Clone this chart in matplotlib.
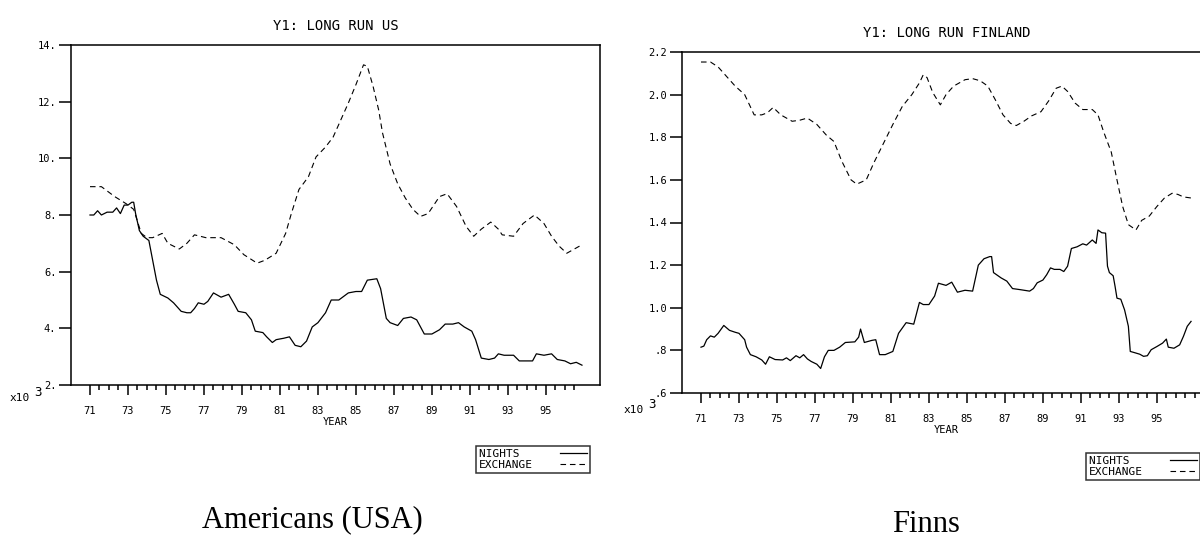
import numpy as np
import matplotlib.pyplot as plt
from matplotlib.ticker import FixedLocator

# ---- data (values in thousands) ----
us_nights_year = [71.0, 71.2, 71.4, 71.6, 71.9, 72.2, 72.4, 72.6, 72.8, 73.0, 73.2, 73.3,
                  73.4, 73.6, 73.8, 74.1, 74.3, 74.4, 74.5, 74.7, 75.1, 75.4, 75.8, 76.1,
                  76.3, 76.5, 76.7, 77.0, 77.2, 77.5, 77.9, 78.3, 78.6, 78.8, 79.2, 79.5,
                  79.7, 80.1, 80.3, 80.6, 80.8, 81.2, 81.5, 81.8, 82.1, 82.4, 82.7, 83.0,
                  83.4, 83.7, 84.1, 84.3, 84.6, 85.0, 85.3, 85.6, 86.1, 86.3, 86.6, 86.8,
                  87.2, 87.5, 87.9, 88.2, 88.6, 89.0, 89.4, 89.7, 90.1, 90.4, 90.7, 91.1,
                  91.3, 91.6, 92.0, 92.3, 92.5, 92.8, 93.3, 93.6, 93.9, 94.3, 94.5, 94.9,
                  95.3, 95.6, 96.0, 96.3, 96.6, 96.9]
us_nights = [8.0, 8.0, 8.15, 8.0, 8.1, 8.1, 8.25, 8.05, 8.35, 8.35, 8.45, 8.45,
             8.05, 7.45, 7.25, 7.1, 6.4, 6.05, 5.7, 5.2, 5.07, 4.9, 4.6, 4.55,
             4.55, 4.7, 4.9, 4.85, 4.95, 5.25, 5.1, 5.2, 4.85, 4.6, 4.55, 4.3,
             3.9, 3.85, 3.7, 3.5, 3.6, 3.65, 3.7, 3.4, 3.35, 3.55, 4.05, 4.2,
             4.55, 5.0, 5.0, 5.1, 5.25, 5.3, 5.3, 5.7, 5.75, 5.4, 4.35, 4.2,
             4.1, 4.35, 4.4, 4.3, 3.8, 3.8, 3.95, 4.15, 4.15, 4.2, 4.05, 3.9,
             3.6, 2.95, 2.9, 2.95, 3.1, 3.05, 3.05, 2.85, 2.85, 2.85, 3.1, 3.05,
             3.1, 2.9, 2.85, 2.75, 2.8, 2.7]

us_exch_year = [71.0, 71.6, 72.3, 72.9, 73.3, 73.7, 74.0, 74.3, 74.8, 75.1, 75.7, 76.1,
                76.5, 77.1, 77.9, 78.6, 79.1, 79.8, 80.2, 80.8, 81.3, 81.6, 82.0, 82.5,
                82.9, 83.4, 83.8, 84.2, 84.6, 85.0, 85.4, 85.6, 85.9, 86.2, 86.4, 86.8,
                87.2, 87.6, 88.0, 88.4, 88.8, 89.4, 89.8, 90.3, 90.8, 91.2, 91.6, 92.1,
                92.5, 92.7, 93.3, 93.8, 94.4, 94.9, 95.3, 95.7, 96.1, 96.5, 96.9]
us_exch = [9.0, 9.0, 8.65, 8.4, 8.2, 7.35, 7.2, 7.2, 7.35, 7.0, 6.8, 7.0,
           7.3, 7.2, 7.2, 6.95, 6.6, 6.3, 6.4, 6.65, 7.35, 8.05, 8.9, 9.35,
           10.05, 10.4, 10.75, 11.35, 11.95, 12.6, 13.3, 13.25, 12.55, 11.7, 10.9, 9.8,
           9.1, 8.6, 8.2, 7.95, 8.05, 8.65, 8.75, 8.3, 7.6, 7.25, 7.5, 7.75,
           7.5, 7.3, 7.25, 7.7, 8.0, 7.7, 7.25, 6.9, 6.65, 6.8, 6.95]

fi_nights_year = [71.0, 71.15, 71.3, 71.5, 71.7, 71.9, 72.2, 72.5, 72.8, 73.0, 73.3, 73.4,
                  73.6, 73.9, 74.2, 74.4, 74.6, 74.9, 75.3, 75.5, 75.7, 76.0, 76.2, 76.4,
                  76.6, 76.8, 77.1, 77.3, 77.5, 77.7, 78.0, 78.3, 78.6, 79.1, 79.3, 79.4,
                  79.6, 80.0, 80.2, 80.4, 80.7, 81.1, 81.4, 81.8, 82.2, 82.5, 82.7, 83.0,
                  83.3, 83.5, 83.9, 84.2, 84.5, 84.9, 85.3, 85.6, 85.9, 86.2, 86.3, 86.4,
                  86.8, 87.1, 87.4, 87.8, 88.3, 88.5, 88.7, 89.0, 89.2, 89.4, 89.6, 89.9,
                  90.1, 90.3, 90.5, 90.8, 91.1, 91.3, 91.6, 91.8, 91.9, 92.1, 92.3, 92.4,
                  92.5, 92.7, 92.8, 92.9, 93.1, 93.3, 93.5, 93.6, 93.8, 94.1, 94.3, 94.5,
                  94.7, 95.0, 95.3, 95.5, 95.6, 95.9, 96.2, 96.4, 96.6, 96.8]
fi_nights = [0.815, 0.82, 0.85, 0.868, 0.862, 0.88, 0.917, 0.894, 0.885, 0.88, 0.85, 0.815,
             0.78, 0.77, 0.755, 0.735, 0.77, 0.757, 0.755, 0.765, 0.752, 0.775, 0.765, 0.78,
             0.76, 0.748, 0.735, 0.715, 0.77, 0.8, 0.8, 0.815, 0.837, 0.84, 0.862, 0.9,
             0.837, 0.847, 0.85, 0.78, 0.78, 0.795, 0.88, 0.93, 0.923, 1.025, 1.015, 1.015,
             1.055, 1.115, 1.105, 1.12, 1.073, 1.082, 1.078, 1.2, 1.23, 1.24, 1.24, 1.165,
             1.14, 1.125, 1.09, 1.085, 1.078, 1.09, 1.117, 1.13, 1.155, 1.187, 1.18, 1.18,
             1.17, 1.195, 1.278, 1.286, 1.3, 1.294, 1.318, 1.302, 1.365, 1.352, 1.35, 1.195,
             1.165, 1.15, 1.1, 1.045, 1.04, 0.99, 0.913, 0.795, 0.79, 0.782, 0.772, 0.775,
             0.803, 0.818, 0.834, 0.853, 0.815, 0.81, 0.826, 0.866, 0.913, 0.936]

fi_exch_year = [71.0, 71.5, 71.9, 72.5, 72.8, 73.3, 73.8, 74.2, 74.5, 74.8, 75.2, 75.8,
                76.2, 76.6, 77.1, 77.6, 78.0, 78.4, 78.9, 79.2, 79.7, 80.1, 80.6, 81.1,
                81.6, 82.1, 82.5, 82.7, 82.9, 83.2, 83.6, 83.9, 84.3, 84.9, 85.3, 85.7,
                86.1, 86.5, 86.9, 87.3, 87.6, 88.0, 88.4, 88.9, 89.3, 89.7, 90.0, 90.3,
                90.7, 91.1, 91.6, 91.9, 92.2, 92.6, 92.9, 93.2, 93.5, 93.9, 94.2, 94.6,
                95.0, 95.4, 95.8, 96.1, 96.4, 96.8]
fi_exch = [2.153, 2.153, 2.13, 2.07, 2.04, 2.0, 1.905, 1.905, 1.915, 1.94, 1.905, 1.875,
           1.88, 1.89, 1.86, 1.81, 1.78, 1.69, 1.6, 1.58, 1.6, 1.68, 1.77, 1.86,
           1.945, 2.0, 2.055, 2.093, 2.08, 2.01, 1.952, 2.0, 2.04, 2.07, 2.075, 2.065,
           2.04, 1.975, 1.905, 1.865, 1.855, 1.875, 1.9, 1.92, 1.97, 2.03, 2.04, 2.015,
           1.96, 1.93, 1.93, 1.905, 1.825, 1.73, 1.6, 1.475, 1.39, 1.365, 1.41, 1.43,
           1.475, 1.515, 1.537, 1.532, 1.52, 1.515]

us_yticks = [2, 4, 6, 8, 10, 12, 14]
us_ylabels = ['2.', '4.', '6.', '8.', '10.', '12.', '14.']
fi_yticks = [0.6, 0.8, 1.0, 1.2, 1.4, 1.6, 1.8, 2.0, 2.2]
fi_ylabels = ['.6', '.8', '1.0', '1.2', '1.4', '1.6', '1.8', '2.0', '2.2']
year_labels = list(range(71, 96, 2))
series_names = ['NIGHTS', 'EXCHANGE']

plt.rcParams['font.family'] = ['DejaVu Sans Mono']
W, H = 1200, 537
fig = plt.figure(figsize=(12, 5.37), dpi=100)
# mono font: pad names to the same width so they line up on the left
pad_len = max(len(s) for s in series_names)
names = [s.ljust(pad_len) for s in series_names]


def setup(ax, title, yticks, ylabels, ylim, last_minor):
    ax.set_xlim(70.0, 97.85)
    ax.set_ylim(*ylim)
    for s in ax.spines.values():
        s.set_linewidth(1.1)
    ax.set_xticks(year_labels)
    ax.set_xticklabels([str(y) for y in year_labels], fontsize=7.5)
    minors = [m for m in np.arange(71, last_minor + 0.01, 0.5) if m not in year_labels]
    ax.xaxis.set_minor_locator(FixedLocator(minors))
    ax.tick_params(axis='x', which='major', direction='out', length=7, width=1.1, pad=8)
    ax.tick_params(axis='x', which='minor', direction='out', length=3.5, width=1.1)
    ax.set_yticks(yticks)
    ax.set_yticklabels(ylabels, fontsize=7.5)
    ax.tick_params(axis='y', direction='out', length=8.5, width=1.1, pad=2)
    ax.set_xlabel('YEAR', fontsize=7.5, labelpad=1)
    ax.set_title(title, fontsize=10, pad=11)


ax1 = fig.add_axes([71 / W, 1 - 385 / H, 529 / W, 340 / H])
ax1.plot(us_nights_year, us_nights, color='black', lw=0.9, label=names[0])
ax1.plot(us_exch_year, us_exch, color='black', lw=0.8, ls=(0, (5, 3.5)), label=names[1])
setup(ax1, 'Y1: LONG RUN US', us_yticks, us_ylabels, (2, 14), 96.5)

ax2 = fig.add_axes([682 / W, 1 - 393 / H, 529 / W, 341 / H])
ax2.plot(fi_nights_year, fi_nights, color='black', lw=0.9, label=names[0])
ax2.plot(fi_exch_year, fi_exch, color='black', lw=0.8, ls=(0, (5, 3.5)), label=names[1])
setup(ax2, 'Y1: LONG RUN FINLAND', fi_yticks, fi_ylabels, (0.6, 2.2), 97)

for ax, (lx, ly) in [(ax1, (476, 446)), (ax2, (1086, 453))]:
    leg = ax.legend(loc='upper left', bbox_to_anchor=(lx / W, 1 - ly / H),
                    bbox_transform=fig.transFigure, markerfirst=False,
                    fontsize=8, frameon=True, fancybox=False, borderpad=0.3,
                    labelspacing=0.05, handlelength=2.4, handletextpad=2.4,
                    borderaxespad=0)
    leg.get_frame().set_edgecolor('black')
    leg.get_frame().set_linewidth(1.1)

# x10^3 scale markers
fig.text(10 / W, 1 - 398 / H, 'x10', fontsize=8, va='center', ha='left')
fig.text(34 / W, 1 - 392 / H, '3', fontsize=9, va='center', ha='left')
fig.text(624 / W, 1 - 410 / H, 'x10', fontsize=8, va='center', ha='left')
fig.text(648 / W, 1 - 404 / H, '3', fontsize=9, va='center', ha='left')

# captions
fig.text(312 / W, 1 - 520 / H, 'Americans (USA)', family='Liberation Serif',
         fontsize=22, ha='center', va='center')
fig.text(926 / W, 1 - 532 / H, 'Finns', family='Liberation Serif',
         fontsize=22, ha='center', va='baseline')

fig.savefig('out.png', dpi=100)
